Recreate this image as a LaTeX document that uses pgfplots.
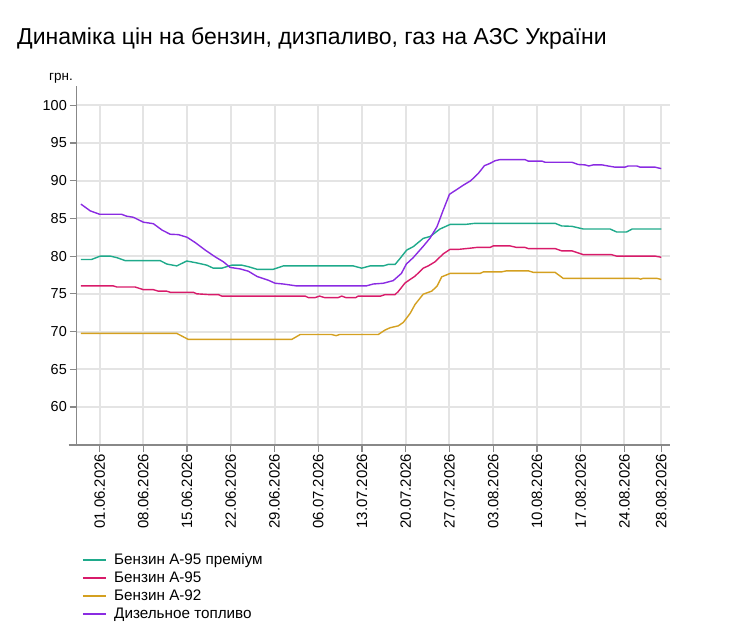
\documentclass[border=0pt]{standalone}
\usepackage{fontspec}
\setmainfont{Liberation Sans}
\usepackage{pgfplots}
\pgfplotsset{compat=1.18}
\definecolor{cprem}{HTML}{1FAA8B}
\definecolor{cnf}{HTML}{D81B6A}
\definecolor{cnt}{HTML}{D4A020}
\definecolor{cdiz}{HTML}{8A2BE2}
\definecolor{caxis}{HTML}{888888}
\definecolor{cgrid}{HTML}{E4E4E4}
\begin{document}
\begin{tikzpicture}[x=1bp,y=1bp]
\path[use as bounding box] (0,0) rectangle (745,-636);
\node[anchor=base west, inner sep=0, font=\fontsize{23.1}{27}\selectfont] at (17,-45) {Динаміка цін на бензин, дизпаливо, газ на АЗС України};
\node[anchor=base west, inner sep=0, font=\fontsize{13.5}{15}\selectfont] at (49,-81) {грн.};
\begin{axis}[
  at={(76.5bp,-444.6bp)}, anchor=south west,
  scale only axis, width=593.5bp, height=339.3bp,
  xmin=-3.7, xmax=91.3, ymin=55, ymax=100,
  axis lines*=left,
  axis line style={draw=caxis, line width=1.8bp},
  y axis line style={shorten >=-19bp},
  x axis line style={shorten <=-8bp},
  ytick={60,65,...,100},
  xtick={0,7,14,21,28,35,42,49,56,63,70,77,84,89.9},
  xticklabels={01.06.2026,08.06.2026,15.06.2026,22.06.2026,29.06.2026,06.07.2026,13.07.2026,20.07.2026,27.07.2026,03.08.2026,10.08.2026,17.08.2026,24.08.2026,28.08.2026},
  grid=major,
  grid style={draw=cgrid, line width=2bp},
  tick align=outside,
  major tick length=7bp,
  tick style={draw=caxis, line width=1.2bp},
  /pgf/number format/assume math mode=true,
  y tick label style={font=\fontsize{14.5}{16}\selectfont, inner xsep=2.5bp},
  x tick label style={font=\fontsize{15}{17}\selectfont, rotate=90, anchor=east, inner xsep=2bp},
  legend style={at={(axis description cs:0.0088,-0.3195)}, anchor=north west, draw=none, fill=none,
    inner sep=0pt, font=\fontsize{15.3}{17}\selectfont, row sep=4bp, column sep=7.7bp,
    nodes={inner sep=0pt, text height=11bp, text depth=3bp}},
  legend cell align=left,
  legend image code/.code={\draw[#1, line width=2bp] (0bp,0bp) -- (22.6bp,0bp);},
  every axis plot/.append style={line width=1.4bp},
]
\addplot[cprem] coordinates {
(-3,79.55) (-1.3,79.55) (0.1,80.0) (1.7,80.0) (2.75,79.8) (4.1,79.4) (9.7,79.4)
(10.75,78.95) (12.35,78.7) (13.95,79.35) (15.55,79.1) (17.15,78.8) (18.2,78.4)
(19.55,78.4) (21.15,78.8) (22.75,78.8) (23.8,78.6) (25.2,78.25) (27.8,78.25)
(29.4,78.7) (40.6,78.7) (41.95,78.4) (43.3,78.7) (45.4,78.7) (46.2,78.9) (47.3,78.9)
(48.1,79.7) (49.15,80.8) (50.2,81.25) (51.8,82.35) (52.9,82.6) (54.5,83.6) (56.1,84.2)
(58.5,84.2) (60.1,84.35) (72.9,84.35) (73.95,84.0) (75.6,83.95) (77.4,83.6) (81.7,83.6)
(82.75,83.2) (84.35,83.2) (85.25,83.6) (89.9,83.6)};
\addlegendentry{Бензин А-95 преміум}
\addplot[cnf] coordinates {
(-3,76.05) (2.2,76.05) (2.75,75.9) (5.7,75.9) (7,75.55) (8.6,75.55) (9.4,75.35)
(10.75,75.35) (11.3,75.2) (15,75.2) (15.55,75.0) (17.4,74.9) (19,74.9) (19.55,74.7)
(32.9,74.7) (33.4,74.5) (34.5,74.5) (35.2,74.7) (36,74.5) (38.2,74.5) (38.75,74.7)
(39.4,74.5) (41,74.5) (41.4,74.7) (45,74.7) (45.7,74.9) (47.3,74.9) (47.8,75.3)
(48.9,76.45) (50.5,77.35) (51.8,78.4) (52.6,78.7) (53.7,79.25) (55,80.3) (56.1,80.9)
(57.5,80.9) (59.3,81.05) (60.35,81.15) (62.5,81.15) (63,81.35) (65.7,81.35)
(66.75,81.15) (68.1,81.15) (68.6,81.0) (72.9,81.0) (73.95,80.7) (75.6,80.7)
(77.4,80.2) (81.9,80.2) (82.75,80.0) (88.9,80.0) (89.9,79.85)};
\addlegendentry{Бензин А-95}
\addplot[cnt] coordinates {
(-3,69.75) (12.35,69.75) (14.2,68.95) (30.75,68.95) (32.1,69.6) (37.15,69.6)
(37.85,69.45) (38.4,69.6) (44.6,69.6) (45.7,70.2) (46.5,70.5) (47.8,70.75)
(48.6,71.2) (49.7,72.4) (50.5,73.6) (51.8,74.95) (53.15,75.35) (54,76.0)
(54.75,77.25) (56.1,77.7) (60.9,77.7) (61.4,77.9) (64.3,77.9) (65.15,78.05)
(68.6,78.05) (69.4,77.85) (72.9,77.85) (74.2,77.05) (86.2,77.05) (86.6,76.95)
(87,77.05) (89.2,77.05) (89.9,76.9)};
\addlegendentry{Бензин А-92}
\addplot[cdiz] coordinates {
(-3,86.9) (-1.5,86.0) (0,85.55) (3.5,85.55) (4.3,85.3) (5.4,85.15) (7,84.5)
(8.6,84.3) (10,83.45) (11.3,82.9) (12.6,82.85) (14,82.5) (15.3,81.8) (16.9,80.8)
(18.5,79.9) (19.8,79.25) (20.9,78.5) (22.5,78.3) (23.8,78.0) (25.2,77.3) (27,76.8)
(28.1,76.4) (29.4,76.3) (31.5,76.05) (42.7,76.05) (43.8,76.3) (45.4,76.4) (47,76.75)
(48.3,77.7) (49.1,78.95) (50.2,79.8) (51.8,81.3) (52.9,82.4) (54,83.9) (55,86.1)
(56,88.2) (57.2,88.85) (58.2,89.4) (59.4,90.0) (60.6,90.95) (61.6,92.0) (62.5,92.3)
(63.3,92.65) (64.1,92.8) (68.1,92.8) (68.6,92.6) (70.8,92.6) (71.3,92.45) (75.6,92.45)
(76.6,92.15) (77.7,92.1) (78.3,91.95) (79,92.1) (80.4,92.1) (81.4,91.95) (82.5,91.8)
(84.1,91.8) (84.6,91.95) (86,91.95) (86.5,91.8) (88.9,91.8) (89.9,91.6)};
\addlegendentry{Дизельное топливо}
\end{axis}
\end{tikzpicture}
\end{document}
